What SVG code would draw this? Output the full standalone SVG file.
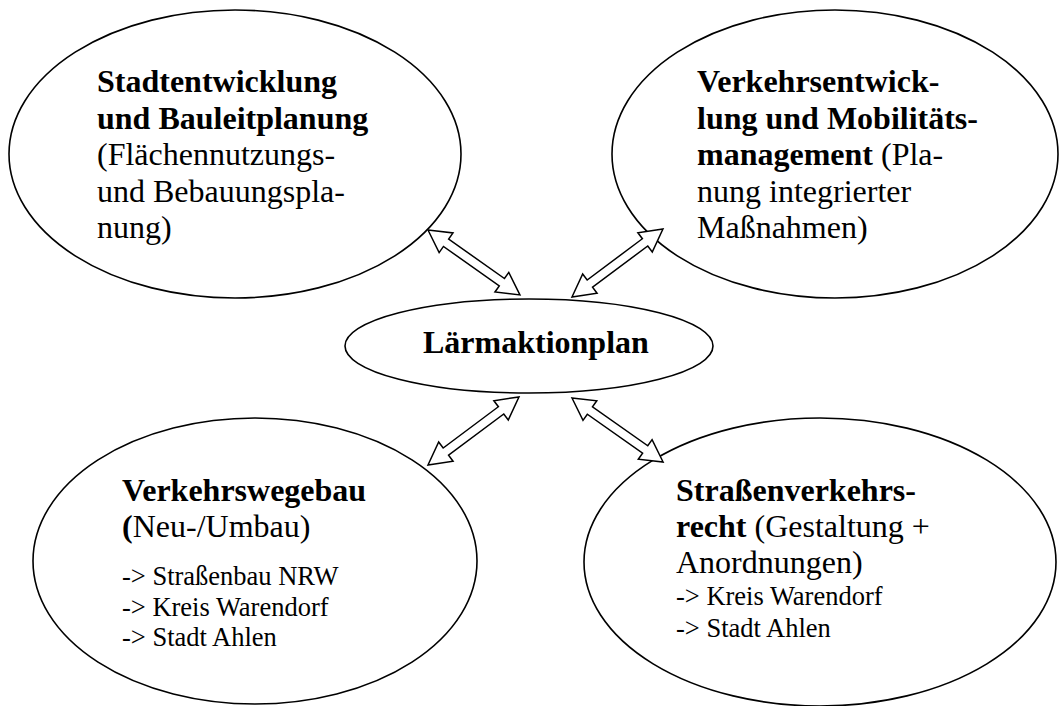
<svg xmlns="http://www.w3.org/2000/svg" width="1059" height="706" viewBox="0 0 1059 706">
<style>
.el{fill:#fff;stroke:#000;stroke-width:1.6}
.ar{fill:#fff;stroke:#000;stroke-width:1.5;stroke-linejoin:miter}
text{font-family:"Liberation Serif","Times New Roman",serif;fill:#000}
.t{font-size:32px}
.b{font-weight:bold}
.s{font-size:26.5px}
</style>
<defs>
<path id="dbl" d="M0,0 L22,-12 L22,-4.5 L90,-4.5 L90,-12 L112,0 L90,12 L90,4.5 L22,4.5 L22,12 Z"/>
</defs>
<rect width="1059" height="706" fill="#fff"/>
<g id="n1">
<ellipse class="el" cx="235" cy="154" rx="226" ry="144"/>
<text class="t" x="97"><tspan class="b" x="97" y="92">Stadtentwicklung</tspan><tspan class="b" x="97" y="128.5">und Bauleitplanung</tspan><tspan x="97" y="165">(Flächennutzungs-</tspan><tspan x="97" y="201.5">und Bebauungspla-</tspan><tspan x="97" y="238">nung)</tspan></text>
</g>
<g id="n2">
<ellipse class="el" cx="835" cy="154" rx="223" ry="144"/>
<text class="t" x="697"><tspan class="b" x="697" y="92">Verkehrsentwick-</tspan><tspan class="b" x="697" y="128.5">lung und Mobilitäts-</tspan><tspan x="697" y="165"><tspan class="b">management</tspan> (Pla-</tspan><tspan x="697" y="201.5">nung integrierter</tspan><tspan x="697" y="238">Maßnahmen)</tspan></text>
</g>
<g id="n3">
<ellipse class="el" cx="529" cy="346" rx="184" ry="47"/>
<text class="t b" x="423" y="353">Lärmaktionplan</text>
</g>
<g id="n4">
<ellipse class="el" cx="255" cy="561" rx="222" ry="143"/>
<text class="t" x="122"><tspan class="b" x="122" y="500.5">Verkehrswegebau</tspan><tspan x="122" y="537"><tspan class="b">(</tspan>Neu-/Umbau)</tspan></text>
<text class="s" x="122"><tspan x="122" y="585">-&gt; Straßenbau NRW</tspan><tspan x="122" y="615.5">-&gt; Kreis Warendorf</tspan><tspan x="122" y="646">-&gt; Stadt Ahlen</tspan></text>
</g>
<g id="n5">
<ellipse class="el" cx="820" cy="562" rx="236" ry="144"/>
<text class="t" x="676"><tspan class="b" x="676" y="500.5">Straßenverkehrs-</tspan><tspan x="676" y="537"><tspan class="b">recht</tspan> (Gestaltung +</tspan><tspan x="676" y="573">Anordnungen)</tspan></text>
<text class="s" x="676"><tspan x="676" y="605">-&gt; Kreis Warendorf</tspan><tspan x="676" y="637">-&gt; Stadt Ahlen</tspan></text>
</g>
<g id="connectors">
<use href="#dbl" class="ar" transform="translate(428,230) rotate(35.25) scale(1.005,1)"/>
<use href="#dbl" class="ar" transform="translate(572,297) rotate(-36.8) scale(1.014,1)"/>
<use href="#dbl" class="ar" transform="translate(428,465) rotate(-36.8) scale(1.014,1)"/>
<use href="#dbl" class="ar" transform="translate(572,398) rotate(35.1) scale(0.994,1)"/>
</g>
</svg>
